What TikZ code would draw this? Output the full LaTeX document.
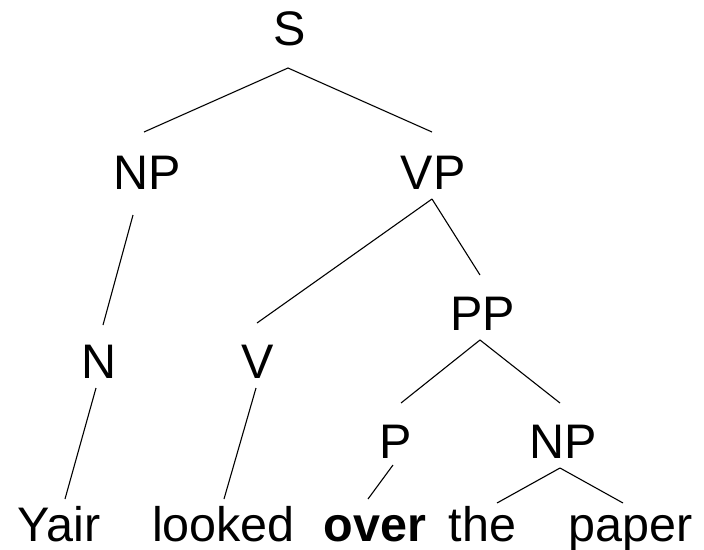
\documentclass[tikz,border=0pt]{standalone}
\usepackage{fontspec}
\setmainfont{Liberation Sans}
\begin{document}
\begin{tikzpicture}[x=1pt,y=-1pt,
  lbl/.style={anchor=base,inner sep=0pt,font=\fontsize{48.5}{58}\selectfont},
  edge/.style={line width=1.1pt,black}]
\useasboundingbox (0,0) rectangle (704,549);
% nodes
\node[lbl] (S) at (290,45) {S};
\node[lbl] (NP) at (147.5,189) {NP};
\node[lbl] (VP) at (433,189) {VP};
\node[lbl] (PP) at (482.5,330) {PP};
\node[lbl] (N) at (99,378) {N};
\node[lbl] (V) at (257.5,378) {V};
\node[lbl] (P) at (396,458) {P};
\node[lbl] (NPb) at (563,458) {NP};
\node[lbl] (Yair) at (59,541) {Yair};
\node[lbl] (looked) at (223.5,541) {looked};
\node[lbl] (over) at (375,541) {\bfseries over};
\node[lbl] (the) at (482.5,541) {the};
\node[lbl] (paper) at (631,541) {paper};
% edges
\draw[edge] ([shift={(-2,23)}]S.base) -- ([shift={(-3.5,-57)}]NP.base);
\draw[edge] ([shift={(-2,23)}]S.base) -- ([shift={(-1,-57)}]VP.base);
\draw[edge] ([shift={(-14.5,26)}]NP.base) -- ([shift={(4,-53)}]N.base);
\draw[edge] ([shift={(-1,10)}]VP.base) -- ([shift={(-0.5,-55)}]V.base);
\draw[edge] ([shift={(-1,10)}]VP.base) -- ([shift={(-2.5,-55)}]PP.base);
\draw[edge] ([shift={(-2.5,10)}]PP.base) -- ([shift={(5,-55)}]P.base);
\draw[edge] ([shift={(-2.5,10)}]PP.base) -- ([shift={(-3,-55)}]NPb.base);
\draw[edge] ([shift={(-3,10)}]N.base) -- ([shift={(6,-42)}]Yair.base);
\draw[edge] ([shift={(-1.5,10)}]V.base) -- ([shift={(0.5,-42)}]looked.base);
\draw[edge] ([shift={(-3,7)}]P.base) -- ([shift={(-7,-42)}]over.base);
\draw[edge] ([shift={(-3,10)}]NPb.base) -- ([shift={(14.5,-38)}]the.base);
\draw[edge] ([shift={(-3,10)}]NPb.base) -- ([shift={(-8,-38)}]paper.base);
\end{tikzpicture}
\end{document}
